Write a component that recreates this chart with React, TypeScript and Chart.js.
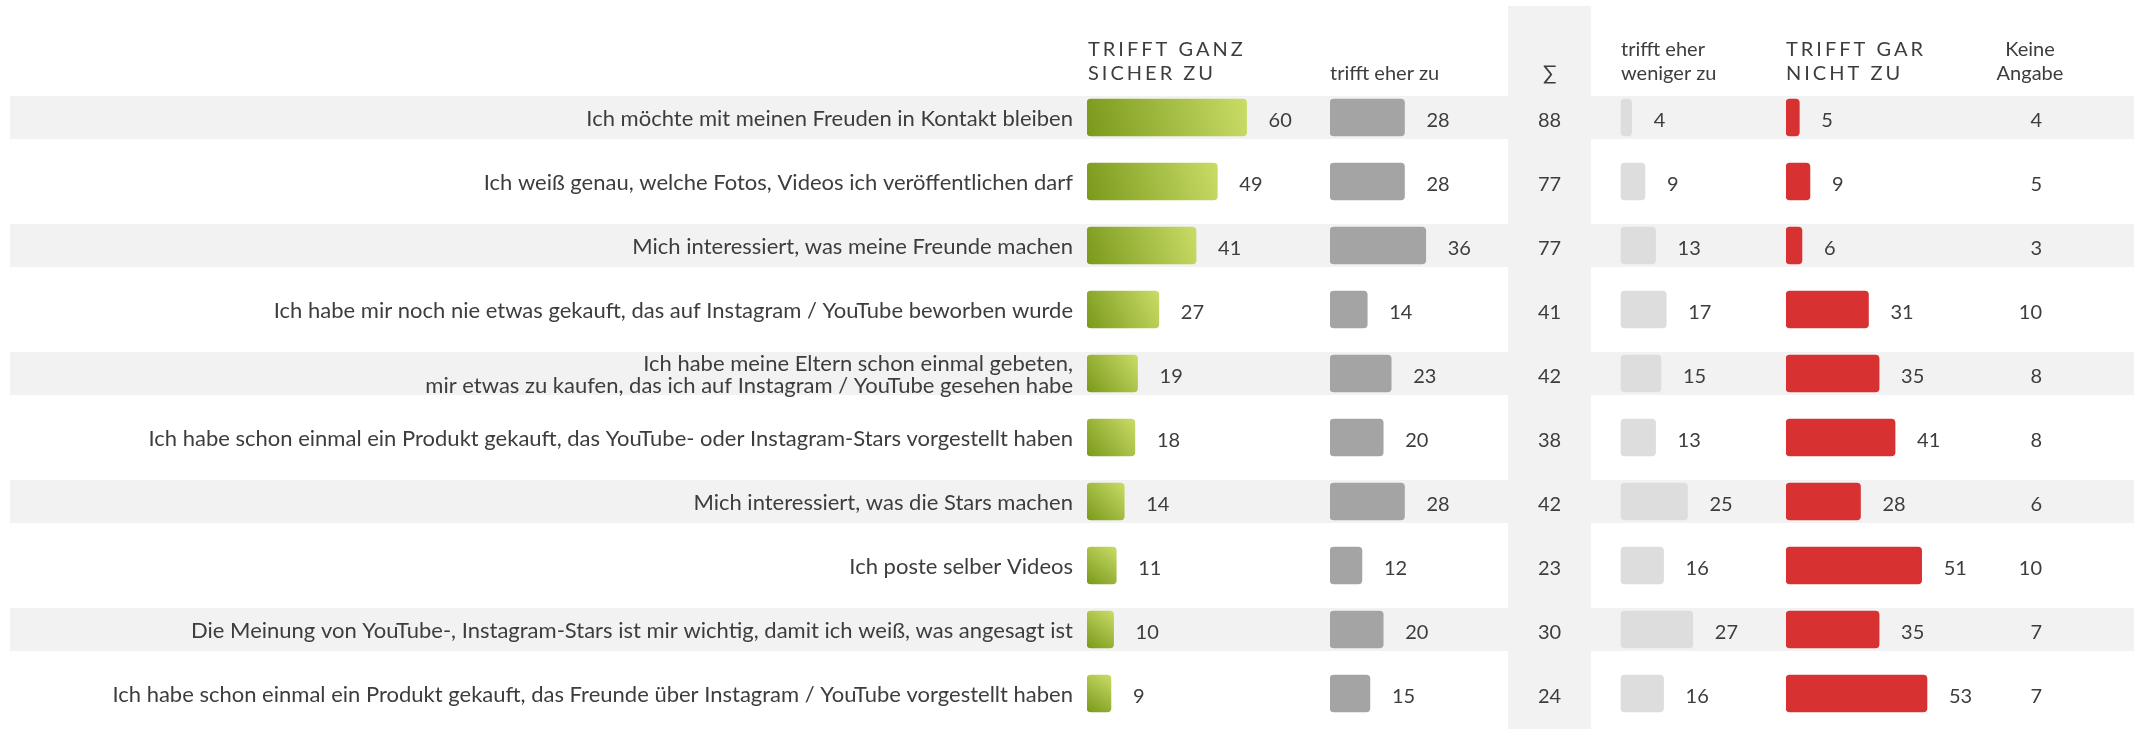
import React, { useEffect, useRef } from "react";
import { Chart, registerables } from "chart.js";

Chart.register(...registerables);

// ---------- data ----------
const categories: (string | string[])[] = [
  "Ich möchte mit meinen Freuden in Kontakt bleiben",
  "Ich weiß genau, welche Fotos, Videos ich veröffentlichen darf",
  "Mich interessiert, was meine Freunde machen",
  "Ich habe mir noch nie etwas gekauft, das auf Instagram / YouTube beworben wurde",
  ["Ich habe meine Eltern schon einmal gebeten,", "mir etwas zu kaufen, das ich auf Instagram / YouTube gesehen habe"],
  "Ich habe schon einmal ein Produkt gekauft, das YouTube- oder Instagram-Stars vorgestellt haben",
  "Mich interessiert, was die Stars machen",
  "Ich poste selber Videos",
  "Die Meinung von YouTube-, Instagram-Stars ist mir wichtig, damit ich weiß, was angesagt ist",
  "Ich habe schon einmal ein Produkt gekauft, das Freunde über Instagram / YouTube vorgestellt haben",
];
const trifftGanzSicherZu = [60, 49, 41, 27, 19, 18, 14, 11, 10, 9];
const trifftEherZu = [28, 28, 36, 14, 23, 20, 28, 12, 20, 15];
const summeZu = [88, 77, 77, 41, 42, 38, 42, 23, 30, 24];
const trifftEherWenigerZu = [4, 9, 13, 17, 15, 13, 25, 16, 27, 16];
const trifftGarNichtZu = [5, 9, 6, 31, 35, 41, 28, 51, 35, 53];
const keineAngabe = [4, 5, 3, 10, 8, 8, 6, 10, 7, 7];

const headGanz = ["TRIFFT GANZ", "SICHER ZU"];
const headEher = ["trifft eher zu"];
const headSumme = ["∑"];
const headWeniger = ["trifft eher", "weniger zu"];
const headGar = ["TRIFFT GAR", "NICHT ZU"];
const headKeine = ["Keine", "Angabe"];

// ---------- layout / style ----------
const W = 2140;
const H = 729;
const PPU = 2.66; // pixels per percentage point
const Y_AXIS_W = 1087;
const SEG_G = 243;
const SEG_E = 178;
const SEG_S = 83;
const SEG_W = 195;
const SEG_N = 204;
const SEG_K = 80;
const W_OFFSET = 30;
const BAR_H = 37;
const STRIPE_H = 43;
const TEXT = "#3d3d3d";
const FONT = "Lato";
const GREEN_DARK = "#7a991c";
const GREEN_LIGHT = "#c9dc66";
const GRAY = "#a4a4a4";
const LIGHT = "#dddddd";
const RED = "#d83131";
const BAND = "#f2f2f2";

const greenFill = (c: any) => {
  const chart = c.chart;
  const xs = chart.scales?.xG;
  const ys = chart.scales?.y;
  if (!chart.chartArea || !xs || !ys || c.dataIndex === undefined) return GREEN_DARK;
  const x0 = xs.getPixelForValue(0);
  const x1 = xs.getPixelForValue(c.raw as number);
  const yc = ys.getPixelForValue(c.dataIndex);
  const g = chart.ctx.createLinearGradient(x0, yc + BAR_H / 2, x1, yc - BAR_H / 2);
  g.addColorStop(0, GREEN_DARK);
  g.addColorStop(1, GREEN_LIGHT);
  return g;
};

const tablePlugin = {
  id: "tableDeco",
  beforeDraw(chart: any) {
    const { ctx, scales } = chart;
    const ys = scales.y;
    const xs = scales.xS;
    ctx.save();
    ctx.fillStyle = BAND;
    ctx.fillRect(xs.left, 6, xs.right - xs.left, H - 6);
    categories.forEach((_, i) => {
      if (i % 2 === 0) {
        const yc = ys.getPixelForValue(i);
        ctx.fillRect(10, yc - STRIPE_H / 2, 2134 - 10, STRIPE_H);
      }
    });
    ctx.restore();
  },
  afterDatasetsDraw(chart: any) {
    const { ctx, scales } = chart;
    const ys = scales.y;
    const BL = 9; // baseline offset from row centre
    ctx.save();
    ctx.fillStyle = TEXT;
    ctx.font = `20px ${FONT}`;
    ctx.textBaseline = "alphabetic";
    ctx.textAlign = "left";
    [0, 1, 2, 3].forEach((d) => {
      const meta = chart.getDatasetMeta(d);
      const vals = chart.data.datasets[d].data as number[];
      meta.data.forEach((bar: any, i: number) => {
        ctx.fillText(String(vals[i]), bar.x + 22, bar.y + BL);
      });
    });
    const sx = (scales.xS.left + scales.xS.right) / 2;
    ctx.textAlign = "center";
    summeZu.forEach((v, i) => ctx.fillText(String(v), sx, ys.getPixelForValue(i) + BL));
    const kx = (scales.xK.left + scales.xK.right) / 2;
    ctx.textAlign = "right";
    keineAngabe.forEach((v, i) => ctx.fillText(String(v), kx + 12, ys.getPixelForValue(i) + BL));

    // headers
    const base = [56, 80];
    const drawHead = (lines: string[], x: number, align: CanvasTextAlign, upper: boolean) => {
      ctx.textAlign = align;
      (ctx as any).letterSpacing = upper ? "3px" : "0px";
      ctx.font = `20px ${FONT}`;
      const offs = lines.length === 1 ? 1 : 0;
      lines.forEach((t, j) => ctx.fillText(t, x, base[j + offs]));
    };
    drawHead(headGanz, scales.xG.getPixelForValue(0) + 1, "left", true);
    drawHead(headEher, scales.xE.getPixelForValue(0), "left", false);
    drawHead(headSumme, sx, "center", false);
    drawHead(headWeniger, scales.xW.getPixelForValue(0), "left", false);
    drawHead(headGar, scales.xN.getPixelForValue(0), "left", true);
    drawHead(headKeine, kx, "center", false);
    ctx.restore();
  },
};

const barCommon = {
  yAxisID: "y",
  grouped: false,
  barThickness: BAR_H,
  borderRadius: 4,
  borderSkipped: false as const,
};

export default function App() {
  const ref = useRef<HTMLCanvasElement | null>(null);
  useEffect(() => {
    if (!ref.current) return;
    const hidden = { display: false };
    const chart = new Chart(ref.current, {
      type: "bar",
      data: {
        labels: categories as any,
        datasets: [
          { ...barCommon, label: "trifft ganz sicher zu", data: trifftGanzSicherZu, xAxisID: "xG", backgroundColor: greenFill },
          { ...barCommon, label: "trifft eher zu", data: trifftEherZu, xAxisID: "xE", backgroundColor: GRAY },
          { ...barCommon, label: "trifft eher weniger zu", data: trifftEherWenigerZu, xAxisID: "xW", backgroundColor: LIGHT },
          { ...barCommon, label: "trifft gar nicht zu", data: trifftGarNichtZu, xAxisID: "xN", backgroundColor: RED },
        ] as any,
      },
      options: {
        indexAxis: "y",
        animation: false,
        responsive: false,
        events: [],
        layout: { padding: { left: 0, top: 85.5, bottom: 3.5, right: W - Y_AXIS_W - (SEG_G + SEG_E + SEG_S + SEG_W + SEG_N + SEG_K) } },
        plugins: { legend: { display: false }, tooltip: { enabled: false } },
        scales: {
          y: {
            type: "category",
            position: "left",
            grid: { display: false, drawTicks: false },
            border: { display: false },
            ticks: { padding: 14, labelOffset: 1, color: TEXT, autoSkip: false, font: { family: FONT, size: 22, lineHeight: 1.0 } },
            afterFit: (s: any) => {
              s.width = Y_AXIS_W;
              s.paddingTop = 0;
              s.paddingBottom = 0;
            },
          },
          xG: { type: "linear", position: "bottom", stack: "cols", stackWeight: SEG_G, min: 0, max: SEG_G / PPU, ...hidden },
          xE: { type: "linear", position: "bottom", stack: "cols", stackWeight: SEG_E, min: 0, max: SEG_E / PPU, ...hidden },
          xS: { type: "linear", position: "bottom", stack: "cols", stackWeight: SEG_S, min: 0, max: 1, ...hidden },
          xW: { type: "linear", position: "bottom", stack: "cols", stackWeight: SEG_W, min: -W_OFFSET / PPU, max: (SEG_W - W_OFFSET) / PPU, ...hidden },
          xN: { type: "linear", position: "bottom", stack: "cols", stackWeight: SEG_N, min: 0, max: SEG_N / PPU, ...hidden },
          xK: { type: "linear", position: "bottom", stack: "cols", stackWeight: SEG_K, min: 0, max: 1, ...hidden },
        } as any,
      },
      plugins: [tablePlugin],
    });
    return () => chart.destroy();
  }, []);
  return (
    <div style={{ position: "absolute", left: 0, top: 0, width: W, height: H, background: "#fff" }}>
      <canvas ref={ref} width={W} height={H} style={{ display: "block" }} />
    </div>
  );
}
